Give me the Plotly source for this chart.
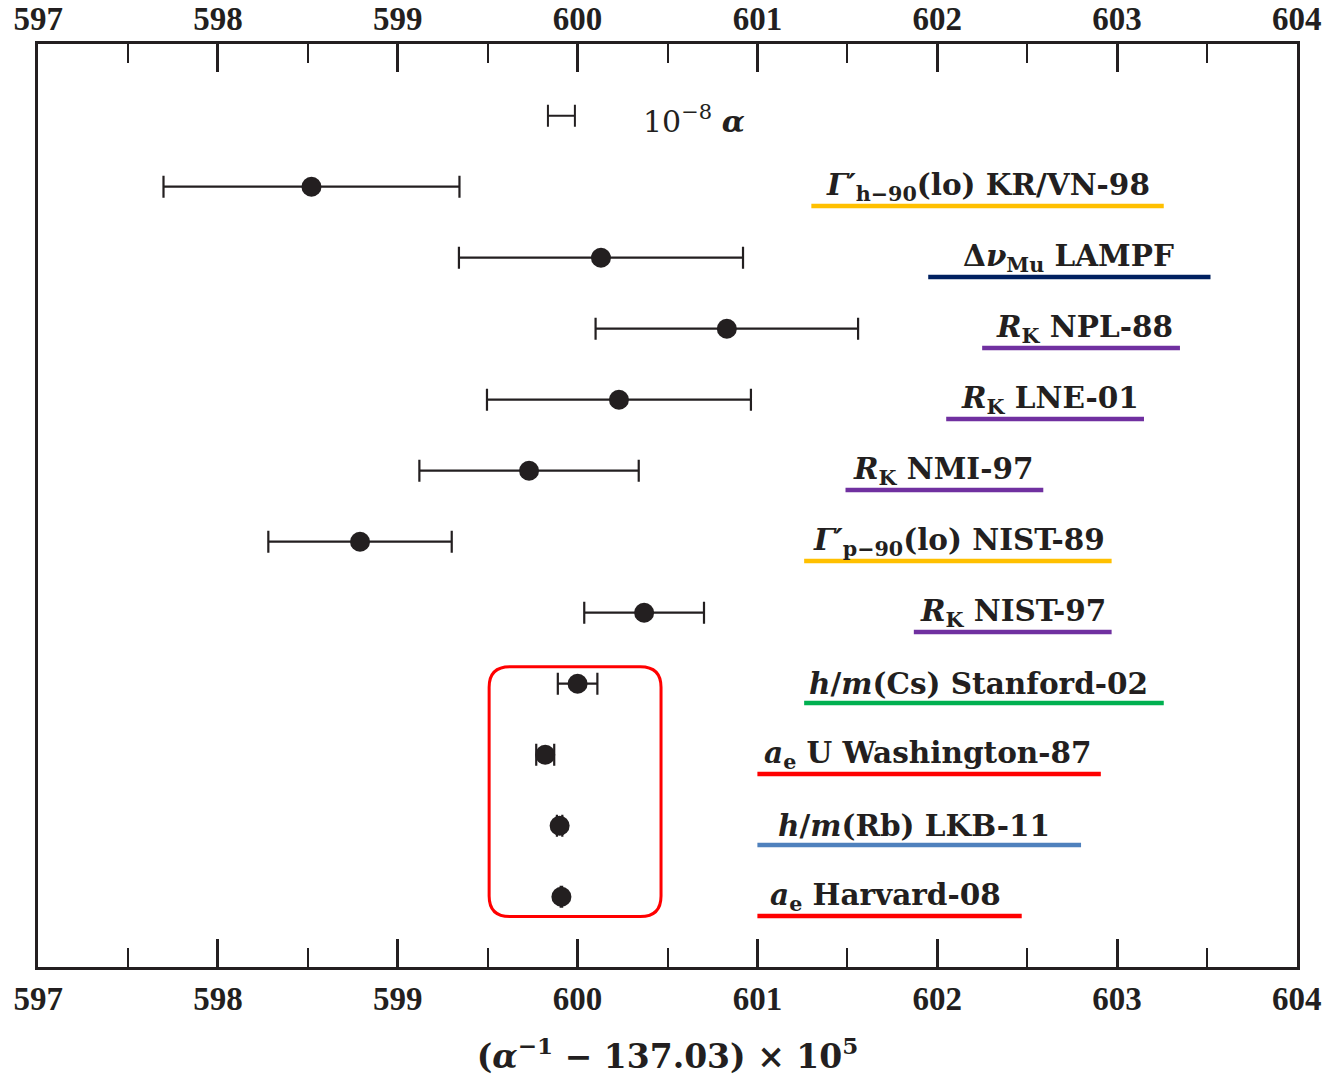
import plotly.graph_objects as go

# ---- data ----
labels = [
    "<i>Γ′</i><sub>h−90</sub>(lo) KR/VN-98",
    "Δ<i>ν</i><sub>Mu</sub> LAMPF",
    "<i>R</i><sub>K</sub> NPL-88",
    "<i>R</i><sub>K</sub> LNE-01",
    "<i>R</i><sub>K</sub> NMI-97",
    "<i>Γ′</i><sub>p−90</sub>(lo) NIST-89",
    "<i>R</i><sub>K</sub> NIST-97",
    "<i>h</i>/<i>m</i>(Cs) Stanford-02",
    "<i>a</i><sub>e</sub> U Washington-87",
    "<i>h</i>/<i>m</i>(Rb) LKB-11",
    "<i>a</i><sub>e</sub> Harvard-08",
]
values = [598.52, 600.13, 600.83, 600.23, 599.73, 598.79, 600.37, 600.00, 599.82, 599.90, 599.91]
errors = [0.823, 0.79, 0.73, 0.734, 0.61, 0.51, 0.333, 0.11, 0.05, 0.015, 0.004]
rows = [1, 2, 3, 4, 5, 6, 7, 8, 9, 10, 11]

ref_value = 599.91     # 10^-8 alpha scale bar
ref_error = 0.075
ref_row = 0

underline_colors = ["#FFC000", "#002060", "#7030A0", "#7030A0", "#7030A0", "#FFC000",
                    "#7030A0", "#00B050", "#FF0000", "#4F81BD", "#FF0000"]
underline_x0 = [601.30, 601.95, 602.25, 602.05, 601.49, 601.26, 601.87, 601.26, 601.00, 601.00, 601.00]
underline_x1 = [603.26, 603.52, 603.35, 603.15, 602.59, 602.97, 602.97, 603.26, 602.91, 602.80, 602.47]
label_x = [602.28, 602.73, 602.82, 602.63, 602.03, 602.12, 602.42, 602.23, 601.95, 601.87, 601.71]

x_ticks = [597, 598, 599, 600, 601, 602, 603, 604]
x_range = [596.999, 604.001]
y_range = [11.99, -1.01]

FONT = "DejaVu Serif"
TICK_FONT = "Liberation Serif"
INK = "#231f20"

fig = go.Figure()

fig.add_trace(go.Scatter(
    x=[ref_value], y=[ref_row], mode="markers",
    marker=dict(size=1, color="rgba(0,0,0,0)"),
    error_x=dict(type="data", array=[ref_error], color=INK, thickness=2, width=11),
    showlegend=False, hoverinfo="skip"))

fig.add_trace(go.Scatter(
    x=values, y=rows, mode="markers",
    marker=dict(size=20, color=INK),
    error_x=dict(type="data", array=errors, color=INK, thickness=2.2, width=11),
    showlegend=False))

# invisible trace on top axis
fig.add_trace(go.Scatter(x=[600], y=[0], xaxis="x2", mode="markers",
                         marker=dict(opacity=0), showlegend=False, hoverinfo="skip"))

shapes = []
annotations = []
for i, lab in enumerate(labels):
    r = rows[i]
    shapes.append(dict(type="line", xref="x", yref="y",
                       x0=underline_x0[i], x1=underline_x1[i], y0=r + 0.27, y1=r + 0.27,
                       line=dict(color=underline_colors[i], width=4.5)))
    annotations.append(dict(x=label_x[i], y=r, xref="x", yref="y", text="<b>" + lab + "</b>",
                            showarrow=False, xanchor="center", yanchor="middle",
                            font=dict(family=FONT, size=29.5, color=INK)))

annotations.append(dict(x=600.65, y=ref_row + 0.06, xref="x", yref="y",
                        text="10<sup>−8</sup> <b><i>α</i></b>", showarrow=False,
                        xanchor="center", yanchor="middle",
                        font=dict(family=FONT, size=30, color=INK)))

# rounded red box around the four most precise results
bx0, bx1, by0, by1 = 599.508, 600.464, 7.76, 11.28
rx, ry = 0.115, 0.29
path = (f"M {bx0+rx},{by0} L {bx1-rx},{by0} Q {bx1},{by0} {bx1},{by0+ry} "
        f"L {bx1},{by1-ry} Q {bx1},{by1} {bx1-rx},{by1} L {bx0+rx},{by1} "
        f"Q {bx0},{by1} {bx0},{by1-ry} L {bx0},{by0+ry} Q {bx0},{by0} {bx0+rx},{by0} Z")
shapes.append(dict(type="path", xref="x", yref="y", path=path,
                   line=dict(color="#FF0000", width=3)))

axis_common = dict(range=x_range, tickvals=x_ticks, ticktext=[f"<b>{t}</b>" for t in x_ticks],
                   ticks="inside", ticklen=28, tickwidth=3, tickcolor=INK,
                   minor=dict(dtick=0.5, tick0=597, ticks="inside", ticklen=19, tickwidth=2,
                              tickcolor=INK),
                   showgrid=False, zeroline=False, automargin=False,
                   ticklabeloverflow="allow",
                   tickfont=dict(family=TICK_FONT, size=33, color=INK))

fig.update_layout(
    width=1324, height=1079,
    margin=dict(l=38, r=27, t=44, b=112),
    paper_bgcolor="white", plot_bgcolor="white",
    xaxis=dict(**axis_common, showline=True, linewidth=3, linecolor=INK, mirror=True,
               ticklabelstandoff=0,
               title=dict(text="<b>(<i>α</i><sup>−1</sup> − 137.03) × 10<sup>5</sup></b>",
                          font=dict(family=FONT, size=33, color=INK), standoff=30)),
    xaxis2=dict(**axis_common, overlaying="x", side="top", anchor="y", showline=False,
                ticklabelstandoff=6),
    yaxis=dict(range=y_range, showticklabels=False, ticks="", showgrid=False, zeroline=False,
               showline=True, linewidth=3, linecolor=INK, mirror=True, automargin=False),
    shapes=shapes, annotations=annotations,
)

fig.write_html("out.html")
